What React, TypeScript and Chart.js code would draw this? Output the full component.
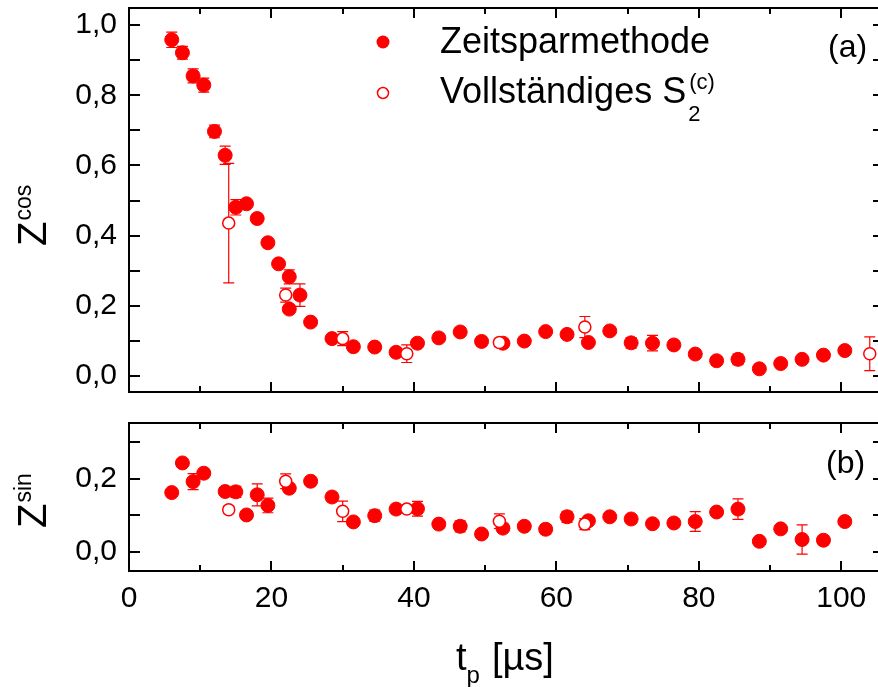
import { useEffect, useRef } from 'react';
import { Chart, registerables } from 'chart.js';

Chart.register(...registerables);

const RED = '#ff0000';
const FONT = '"Liberation Sans", Arial, Helvetica, sans-serif';

const X_MIN = 0;
const X_MAX = 106;
const xMajorTicks = [0, 20, 40, 60, 80, 100];
const xMinorTicks = [10, 30, 50, 70, 90];

// Panel (a): Z^cos, time-saving method
const cosFastT = [6, 7.5, 9, 10.5, 12, 13.5, 15, 16.5, 18, 19.5, 21, 22.5, 22.5, 24, 25.5, 28.5, 31.5, 34.5, 37.5, 40.5, 43.5, 46.5, 49.5, 52.5, 55.5, 58.5, 61.5, 64.5, 67.5, 70.5, 73.5, 76.5, 79.5, 82.5, 85.5, 88.5, 91.5, 94.5, 97.5, 100.5];
const cosFastZ = [0.958, 0.921, 0.855, 0.829, 0.697, 0.629, 0.481, 0.491, 0.449, 0.38, 0.32, 0.283, 0.191, 0.231, 0.154, 0.107, 0.084, 0.083, 0.068, 0.094, 0.109, 0.126, 0.099, 0.094, 0.1, 0.127, 0.119, 0.096, 0.129, 0.095, 0.094, 0.089, 0.063, 0.044, 0.048, 0.021, 0.036, 0.048, 0.06, 0.073];
const cosFastErr = [0.022, 0.018, 0.02, 0.02, 0.018, 0.026, 0.022, 0.01, 0.012, 0, 0, 0.02, 0, 0.032, 0, 0, 0, 0.01, 0.008, 0.01, 0, 0, 0.012, 0.008, 0, 0, 0, 0, 0, 0.015, 0.022, 0, 0, 0.012, 0.015, 0, 0, 0, 0.01, 0.01];

// Panel (a): Z^cos, full S2(c)
const cosFullT = [14, 22, 30, 39, 52, 64, 104];
const cosFullZ = [0.436, 0.231, 0.107, 0.064, 0.096, 0.14, 0.064];
const cosFullErr = [0.17, 0.02, 0.02, 0.025, 0.012, 0.03, 0.048];

// Panel (b): Z^sin, time-saving method
const sinFastT = [6, 7.5, 9, 10.5, 13.5, 15, 16.5, 18, 19.5, 22.5, 25.5, 28.5, 31.5, 34.5, 37.5, 40.5, 43.5, 46.5, 49.5, 52.5, 55.5, 58.5, 61.5, 64.5, 67.5, 70.5, 73.5, 76.5, 79.5, 82.5, 85.5, 88.5, 91.5, 94.5, 97.5, 100.5];
const sinFastZ = [0.162, 0.243, 0.192, 0.215, 0.165, 0.164, 0.101, 0.156, 0.127, 0.174, 0.193, 0.15, 0.082, 0.099, 0.117, 0.118, 0.076, 0.07, 0.049, 0.065, 0.07, 0.062, 0.096, 0.085, 0.096, 0.09, 0.077, 0.079, 0.083, 0.109, 0.117, 0.029, 0.063, 0.034, 0.032, 0.083];
const sinFastErr = [0, 0, 0.022, 0, 0, 0.015, 0.012, 0.03, 0.02, 0, 0, 0, 0, 0.015, 0, 0.02, 0, 0.015, 0, 0, 0, 0.013, 0.015, 0, 0, 0, 0, 0.01, 0.027, 0, 0.028, 0, 0, 0.04, 0.012, 0];

// Panel (b): Z^sin, full S2(c)
const sinFullT = [14, 22, 30, 39, 52, 64];
const sinFullZ = [0.115, 0.193, 0.111, 0.117, 0.084, 0.076];
const sinFullErr = [0.01, 0.02, 0.028, 0.008, 0.02, 0.015];

const CANVAS_W = 892;

type Ctx = CanvasRenderingContext2D;

interface PanelCfg {
  height: number;
  padTop: number;
  padBottom: number;
  xAxisHeight: number;
  showX: boolean;
  yMin: number;
  yMax: number;
  labelStep: number;
  fastT: number[];
  fastZ: number[];
  fastErr: number[];
  fullT: number[];
  fullZ: number[];
  fullErr: number[];
  decorate: (ctx: Ctx, chart: any) => void;
}

const isMultiple = (v: number, step: number) => Math.abs(v / step - Math.round(v / step)) < 1e-6;
const fmt = (v: number) => (Math.abs(v) < 1e-9 ? 0 : v).toFixed(1).replace('.', ',');

function drawYTitle(ctx: Ctx, baseX: number, startY: number, sup: string) {
  ctx.save();
  ctx.translate(baseX, startY);
  ctx.rotate(-Math.PI / 2);
  ctx.fillStyle = '#000';
  ctx.textAlign = 'left';
  ctx.textBaseline = 'alphabetic';
  ctx.font = `40px ${FONT}`;
  ctx.fillText('Z', 0, 0);
  const w = ctx.measureText('Z').width;
  ctx.font = `23px ${FONT}`;
  ctx.fillText(sup, w + 1, -15);
  ctx.restore();
}

function toPoints(t: number[], z: number[]) {
  return t.map((x, i) => ({ x, y: z[i] }));
}

function makePlugin(cfg: PanelCfg) {
  return {
    id: 'panelDecor',
    beforeDatasetsDraw(chart: any) {
      const ctx: Ctx = chart.ctx;
      const xs = chart.scales.x;
      const ys = chart.scales.y;
      const bars = (t: number[], z: number[], e: number[]) => {
        t.forEach((tv, i) => {
          if (!e[i]) return;
          const px = xs.getPixelForValue(tv);
          const y1 = ys.getPixelForValue(z[i] + e[i]);
          const y2 = ys.getPixelForValue(z[i] - e[i]);
          ctx.beginPath();
          ctx.moveTo(px, y1);
          ctx.lineTo(px, y2);
          ctx.moveTo(px - 5.5, y1);
          ctx.lineTo(px + 5.5, y1);
          ctx.moveTo(px - 5.5, y2);
          ctx.lineTo(px + 5.5, y2);
          ctx.stroke();
        });
      };
      ctx.save();
      ctx.strokeStyle = RED;
      ctx.lineWidth = 1.2;
      bars(cfg.fastT, cfg.fastZ, cfg.fastErr);
      bars(cfg.fullT, cfg.fullZ, cfg.fullErr);
      ctx.restore();
    },
    afterDraw(chart: any) {
      const ctx: Ctx = chart.ctx;
      const { left, right, top, bottom } = chart.chartArea;
      const xs = chart.scales.x;
      const ys = chart.scales.y;
      ctx.save();
      ctx.strokeStyle = '#000';
      ctx.lineWidth = 2;
      ctx.strokeRect(left, top, right - left, bottom - top);
      ctx.beginPath();
      const xTick = (v: number, len: number) => {
        const px = Math.round(xs.getPixelForValue(v));
        ctx.moveTo(px, bottom);
        ctx.lineTo(px, bottom - len);
        ctx.moveTo(px, top);
        ctx.lineTo(px, top + len);
      };
      xMajorTicks.forEach((v) => xTick(v, 10));
      xMinorTicks.forEach((v) => xTick(v, 6));
      ys.ticks.forEach((t: any) => {
        const py = Math.round(ys.getPixelForValue(t.value));
        ctx.moveTo(left, py);
        ctx.lineTo(left + 11, py);
        ctx.moveTo(right, py);
        ctx.lineTo(right - 11, py);
      });
      ctx.stroke();
      ctx.restore();
      ctx.save();
      cfg.decorate(ctx, chart);
      ctx.restore();
    },
  };
}

function buildConfig(cfg: PanelCfg): any {
  const tickFont = { family: FONT, size: 30 };
  return {
    type: 'scatter',
    data: {
      datasets: [
        {
          label: 'Vollständiges S2(c)',
          data: toPoints(cfg.fullT, cfg.fullZ),
          pointRadius: 6,
          pointBackgroundColor: '#ffffff',
          pointBorderColor: RED,
          pointBorderWidth: 1.5,
          order: 0,
        },
        {
          label: 'Zeitsparmethode',
          data: toPoints(cfg.fastT, cfg.fastZ),
          pointRadius: 7,
          pointBackgroundColor: RED,
          pointBorderColor: RED,
          pointBorderWidth: 1,
          order: 1,
        },
      ],
    },
    options: {
      animation: false,
      responsive: false,
      devicePixelRatio: 1,
      layout: { padding: { top: cfg.padTop, bottom: cfg.padBottom, left: 0, right: 6 } },
      plugins: { legend: { display: false }, tooltip: { enabled: false } },
      scales: {
        x: {
          type: 'linear',
          min: X_MIN,
          max: X_MAX,
          display: cfg.showX,
          grid: { display: false, drawTicks: false },
          border: { display: false },
          ticks: {
            stepSize: 20,
            includeBounds: false,
            autoSkip: false,
            maxRotation: 0,
            padding: 10,
            color: '#000',
            font: tickFont,
            callback: (v: number) => String(v),
          },
          afterBuildTicks: (s: any) => {
            s.ticks = s.ticks.filter((t: any) => isMultiple(t.value, 20));
          },
          afterFit: (s: any) => {
            s.height = cfg.xAxisHeight;
            s.paddingLeft = 0;
            s.paddingRight = 0;
          },
        },
        y: {
          type: 'linear',
          min: cfg.yMin,
          max: cfg.yMax,
          grid: { display: false, drawTicks: false },
          border: { display: false },
          ticks: {
            stepSize: 0.1,
            includeBounds: false,
            autoSkip: false,
            padding: 12,
            color: '#000',
            font: tickFont,
            callback: (v: number) => (isMultiple(v, cfg.labelStep) ? fmt(v) : ''),
          },
          afterBuildTicks: (s: any) => {
            s.ticks = s.ticks.filter((t: any) => isMultiple(t.value, 0.1));
          },
          afterFit: (s: any) => {
            s.width = 129;
            s.paddingTop = 0;
            s.paddingBottom = 0;
          },
        },
      },
    },
    plugins: [makePlugin(cfg)],
  };
}

const topPanel: PanelCfg = {
  height: 400,
  padTop: 7,
  padBottom: 3,
  xAxisHeight: 0,
  showX: false,
  yMin: -0.045,
  yMax: 1.0485,
  labelStep: 0.2,
  fastT: cosFastT,
  fastZ: cosFastZ,
  fastErr: cosFastErr,
  fullT: cosFullT,
  fullZ: cosFullZ,
  fullErr: cosFullErr,
  decorate: (ctx) => {
    drawYTitle(ctx, 46, 246, 'cos');
    // legend
    ctx.fillStyle = RED;
    ctx.beginPath();
    ctx.arc(383, 42, 6.5, 0, Math.PI * 2);
    ctx.fill();
    ctx.fillStyle = '#fff';
    ctx.strokeStyle = RED;
    ctx.lineWidth = 1.5;
    ctx.beginPath();
    ctx.arc(383, 93, 5.5, 0, Math.PI * 2);
    ctx.fill();
    ctx.stroke();
    ctx.fillStyle = '#000';
    ctx.textAlign = 'left';
    ctx.textBaseline = 'alphabetic';
    ctx.font = `36px ${FONT}`;
    ctx.fillText('Zeitsparmethode', 440, 53);
    const main = 'Vollständiges S';
    ctx.fillText(main, 440, 103);
    const w = ctx.measureText(main).width;
    ctx.font = `22px ${FONT}`;
    ctx.fillText('(c)', 440 + w + 3, 89);
    ctx.fillText('2', 440 + w + 2, 121);
    ctx.font = `32px ${FONT}`;
    ctx.fillText('(a)', 828, 57);
  },
};

const bottomPanel: PanelCfg = {
  height: 287,
  padTop: 23,
  padBottom: 0,
  xAxisHeight: 116,
  showX: true,
  yMin: -0.052,
  yMax: 0.352,
  labelStep: 0.2,
  fastT: sinFastT,
  fastZ: sinFastZ,
  fastErr: sinFastErr,
  fullT: sinFullT,
  fullZ: sinFullZ,
  fullErr: sinFullErr,
  decorate: (ctx) => {
    drawYTitle(ctx, 46, 128, 'sin');
    ctx.fillStyle = '#000';
    ctx.textAlign = 'left';
    ctx.textBaseline = 'alphabetic';
    ctx.font = `32px ${FONT}`;
    ctx.fillText('(b)', 826, 73);
    // x-axis title: t_p [µs]
    ctx.font = `38px ${FONT}`;
    const x0 = 456;
    ctx.fillText('t', x0, 270);
    const wt = ctx.measureText('t').width;
    ctx.font = `24px ${FONT}`;
    ctx.fillText('p', x0 + wt, 283);
    const wp = ctx.measureText('p').width;
    ctx.font = `38px ${FONT}`;
    ctx.fillText('[µs]', x0 + wt + wp + 12, 270);
  },
};

function Panel({ cfg, top }: { cfg: PanelCfg; top: number }) {
  const ref = useRef<HTMLCanvasElement>(null);
  useEffect(() => {
    const chart = new Chart(ref.current as HTMLCanvasElement, buildConfig(cfg));
    return () => chart.destroy();
  }, [cfg]);
  return (
    <canvas
      ref={ref}
      width={CANVAS_W}
      height={cfg.height}
      style={{ position: 'absolute', left: 0, top, width: CANVAS_W, height: cfg.height }}
    />
  );
}

export default function App() {
  return (
    <div
      style={{
        position: 'fixed',
        left: 0,
        top: 0,
        width: 878,
        height: 687,
        overflow: 'hidden',
        background: '#fff',
      }}
    >
      <Panel cfg={topPanel} top={0} />
      <Panel cfg={bottomPanel} top={400} />
    </div>
  );
}
